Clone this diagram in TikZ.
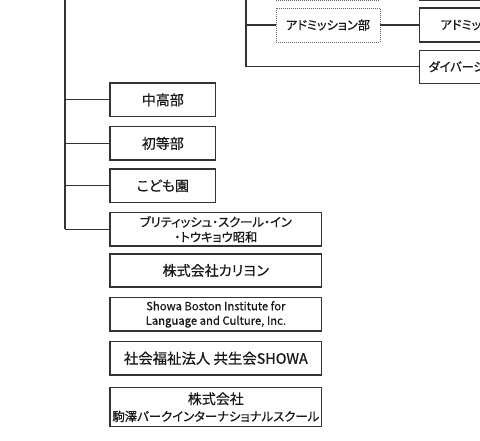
\documentclass[tikz,border=0pt]{standalone}
\usepackage{fontspec}
\setmainfont{Noto Sans CJK JP}[RawFeature=+palt, FakeBold=0.6]
\begin{document}
\begin{tikzpicture}[x=1pt,y=-1pt,
  ln/.style={draw=black!80, line width=1.1pt},
  box/.style={draw=black!80, line width=1.1pt, inner sep=0pt, align=center, text=black!90, font=\fontsize{14}{15}\selectfont},
  wbox/.style={box, minimum width=211.7pt},
  nbox/.style={box, minimum width=105.7pt},
  dbox/.style={draw=black!60, line width=0.8pt, dash pattern=on 1pt off 1pt, inner sep=0pt, align=center, text=black!90, font=\fontsize{12.2}{15}\selectfont, minimum width=104pt, minimum height=34pt}]
\useasboundingbox (0,0) rectangle (480,440);
\clip (0,0) rectangle (480,440);
% left column
\coordinate (L) at (65,-2);
\node[nbox, minimum height=33.7pt] (chuko) at (162.85,99.85) {中高部};
\node[nbox, minimum height=33.3pt] (shoto) at (162.85,143.35) {初等部};
\node[nbox, minimum height=33.7pt] (kodomo) at (162.85,185.85) {こども園};
\node[wbox, minimum height=33.3pt, font=\fontsize{12.3}{15}\selectfont] (british) at (215.85,229.35) {ブリティッシュ・スクール・イン\\・トウキョウ昭和};
\node[wbox, minimum height=33pt] (kariyon) at (215.85,270.5) {株式会社カリヨン};
\node[wbox, minimum height=33.3pt, font=\fontsize{11.3}{14.5}\selectfont] (boston) at (215.85,314.35) {Showa Boston Institute for\\Language and Culture, Inc.};
\node[wbox, minimum height=33.3pt, font=\fontsize{14.4}{15}\selectfont] (kyosei) at (215.85,358.35) {社会福祉法人 共生会SHOWA};
\node[wbox, minimum height=39pt, font=\fontsize{14}{17}\selectfont] (koma) at (215.85,407.2) {株式会社\\{\fontsize{12.4}{17}\selectfont 駒澤パークインターナショナルスクール}};
\coordinate (Lend) at (65,229.35);
\draw[ln] (L) -- (Lend);
\draw[ln] (chuko.west -| L) -- (chuko.west);
\draw[ln] (shoto.west -| L) -- (shoto.west);
\draw[ln] (kodomo.west -| L) -- (kodomo.west);
\draw[ln] (british.west -| L) -- (british.west);
% top right
\coordinate (R) at (246,-2);
\node[dbox, anchor=south west] (dtop) at (276,0.8) {};
\node[dbox] (adm1) at (328,25) {アドミッション部};
\node[box, anchor=south west, minimum width=120pt, minimum height=34pt] (rtop) at (419,0.8) {};
\node[box, anchor=west, minimum height=34pt, inner xsep=21pt, font=\fontsize{12.2}{15}\selectfont] (adm2) at (419,25) {アドミッションオフィス};
\node[box, anchor=west, minimum height=33pt, inner xsep=9pt, font=\fontsize{12.2}{15}\selectfont] (div) at (419,66.7) {ダイバーシティ推進室};
\coordinate (Rend) at (246,66.7);
\draw[ln] (R) -- (Rend) -- (div.west);
\draw[ln] (adm1.west -| R) -- (adm1.west);
\draw[ln] (adm1.east) -- (adm2.west);
\end{tikzpicture}
\end{document}
